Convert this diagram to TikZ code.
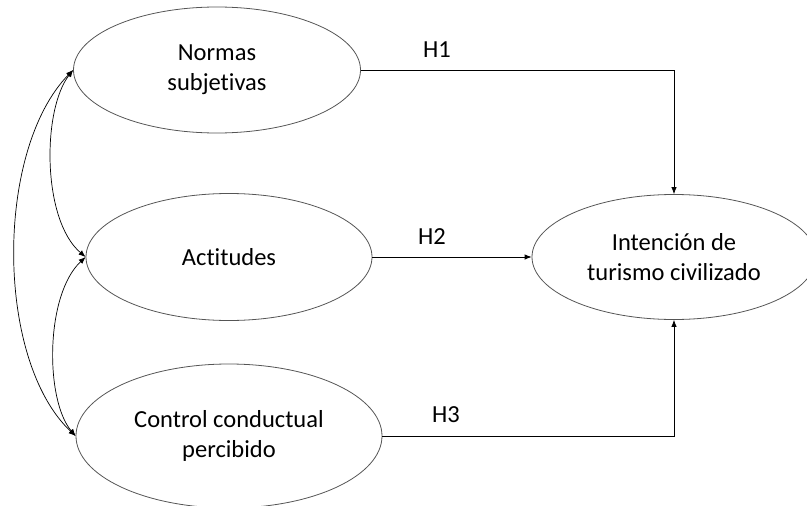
\documentclass[tikz,border=0pt]{standalone}
\usepackage{fontspec}
\setmainfont{Carlito}[RawFeature={-liga}]
\usetikzlibrary{shapes.geometric,arrows.meta}
\definecolor{ellgray}{RGB}{85,85,85}
\begin{document}
\begin{tikzpicture}[x=1pt,y=-1pt,
  latent/.style={ellipse,draw=ellgray,line width=0.8pt,inner sep=0pt,align=center,
    font=\fontsize{24.5}{30}\selectfont},
  conn/.style={line width=0.8pt,-{Latex[length=7pt,width=5.5pt]}},
  biconn/.style={line width=0.7pt,{Latex[length=7pt,width=5.5pt]}-{Latex[length=7pt,width=5.5pt]}},
  hlab/.style={font=\fontsize{24.5}{30}\selectfont,inner sep=0pt}]
\useasboundingbox (0,0) rectangle (807,506);
\node[latent,minimum width=287pt,minimum height=126pt] (ns) at (217,70) {Normas\\subjetivas};
\node[latent,minimum width=286pt,minimum height=127pt] (act) at (229,257) {Actitudes};
\node[latent,minimum width=306pt,minimum height=144pt] (ccp) at (229,436) {Control conductual\\percibido};
\node[latent,minimum width=284pt,minimum height=125pt] (int) at (674,257) {Intención de\\turismo civilizado};
\draw[conn] (ns.east) -| (int.north);
\draw[conn] (act.east) -- (int.west);
\draw[conn] (ccp.east) -| (int.south);
\node[hlab] (h1) at (437,50) {H1};
\node[hlab] (h2) at (432,237) {H2};
\node[hlab] (h3) at (446,415) {H3};
\draw[biconn] (ns.west) .. controls (42,110) and (42,220) .. (act.west);
\draw[biconn] (act.west) .. controls (45,295) and (45,400) .. (ccp.west);
\draw[biconn] (ns.west) .. controls (-5,150) and (-5,360) .. (ccp.west);
\end{tikzpicture}
\end{document}
